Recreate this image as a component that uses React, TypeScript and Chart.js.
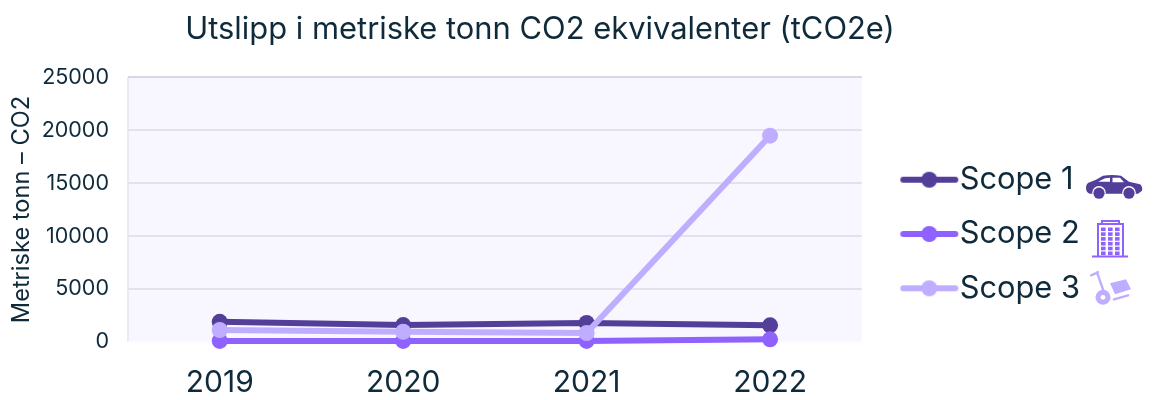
import React, { useEffect, useRef } from "react";
import { Chart, registerables } from "chart.js";

Chart.register(...registerables);

const years = ["2019", "2020", "2021", "2022"];
const scope1 = [1900, 1600, 1800, 1570];
const scope2 = [100, 100, 100, 250];
const scope3 = [1130, 970, 850, 19470];
const seriesNames = ["Scope 1", "Scope 2", "Scope 3"];
const chartTitle = "Utslipp i metriske tonn CO2 ekvivalenter (tCO2e)";
const yTitle = "Metriske tonn – CO2";

const DARK = "#533f99";
const MID = "#8f62ff";
const LIGHT = "#bfaeff";
const TEXT = "#0f2a3b";
const FONT = "Inter";

function legendMark(color: string) {
  const c = document.createElement("canvas");
  c.width = 60;
  c.height = 20;
  const g = c.getContext("2d")!;
  g.strokeStyle = color;
  g.fillStyle = color;
  g.lineWidth = 6;
  g.lineCap = "round";
  g.beginPath();
  g.moveTo(4, 10);
  g.lineTo(56, 10);
  g.stroke();
  g.beginPath();
  g.arc(30, 10, 8, 0, Math.PI * 2);
  g.fill();
  return c;
}

function drawCar(g: CanvasRenderingContext2D, x: number, y: number) {
  g.save();
  g.translate(x, y);
  g.fillStyle = DARK;
  g.beginPath();
  g.moveTo(0, 13);
  g.quadraticCurveTo(0, 8, 5, 7);
  g.lineTo(10, 5);
  g.lineTo(17, 1);
  g.quadraticCurveTo(26, -0.5, 35, 1);
  g.lineTo(43, 7);
  g.lineTo(54, 9.5);
  g.quadraticCurveTo(57, 12, 56, 16);
  g.lineTo(52, 19);
  g.lineTo(4, 19);
  g.quadraticCurveTo(0, 18, 0, 13);
  g.fill();
  g.fillStyle = "#ffffff";
  g.beginPath();
  g.moveTo(12, 7);
  g.lineTo(19, 3.5);
  g.lineTo(24, 3);
  g.lineTo(24, 7);
  g.closePath();
  g.moveTo(26.5, 3);
  g.lineTo(34, 3);
  g.lineTo(38, 7.5);
  g.lineTo(26.5, 7.5);
  g.closePath();
  g.fill();
  for (const cx of [13, 43]) {
    g.fillStyle = "#ffffff";
    g.beginPath();
    g.arc(cx, 18, 6.8, 0, Math.PI * 2);
    g.fill();
    g.fillStyle = DARK;
    g.beginPath();
    g.arc(cx, 18.5, 5.6, 0, Math.PI * 2);
    g.fill();
  }
  g.restore();
}

function drawBuilding(g: CanvasRenderingContext2D, x: number, y: number) {
  g.save();
  g.translate(x, y);
  g.fillStyle = MID;
  g.fillRect(0, 35.5, 36, 2);
  g.fillRect(9, 0, 19, 2);
  g.fillRect(9, 0, 2, 4);
  g.fillRect(26, 0, 2, 4);
  g.fillRect(5, 3, 27, 2);
  g.fillRect(5, 3, 2, 33);
  g.fillRect(30, 3, 2, 33);
  for (let r = 0; r < 6; r++) {
    for (let c = 0; c < 3; c++) {
      g.fillRect(9 + c * 7, 7.5 + r * 4.8, 4.6, 3.6);
    }
  }
  g.restore();
}

function drawTrolley(g: CanvasRenderingContext2D, x: number, y: number) {
  g.save();
  g.translate(x, y);
  g.strokeStyle = LIGHT;
  g.fillStyle = LIGHT;
  g.lineWidth = 2.4;
  g.lineCap = "round";
  g.beginPath();
  g.moveTo(1, 5);
  g.lineTo(8, 2);
  g.moveTo(7, 2);
  g.lineTo(14, 22);
  g.stroke();
  g.beginPath();
  g.moveTo(20, 13);
  g.lineTo(36, 9);
  g.lineTo(41, 19);
  g.lineTo(25, 24);
  g.closePath();
  g.fill();
  g.beginPath();
  g.moveTo(24, 29);
  g.lineTo(38, 25);
  g.stroke();
  g.beginPath();
  g.arc(13, 27, 7.5, 0, Math.PI * 2);
  g.fill();
  g.fillStyle = "#ffffff";
  g.beginPath();
  g.arc(13, 27, 2.4, 0, Math.PI * 2);
  g.fill();
  g.restore();
}

const layoutPlugin = {
  id: "layoutTweaks",
  afterLayout(chart: any) {
    chart.titleBlock.left = 0;
    chart.titleBlock.right = 1080;
    const w = chart.legend.width;
    chart.legend.left = chart.chartArea.right + 29;
    chart.legend.right = chart.legend.left + w;
    chart.legend.top += 34;
    chart.legend.bottom += 34;
  },
  beforeDraw(chart: any) {
    const { ctx, chartArea: a } = chart;
    ctx.save();
    ctx.fillStyle = "#f8f6fe";
    ctx.fillRect(a.left, a.top, a.right - a.left, a.bottom - a.top);
    ctx.restore();
  },
  afterDraw(chart: any) {
    const boxes = chart.legend.legendHitBoxes;
    const { ctx } = chart;
    const draws = [drawCar, drawBuilding, drawTrolley];
    const offsets = [
      [1086, -2],
      [1092, -11],
      [1090, -15],
    ];
    boxes.forEach((b: any, i: number) => {
      draws[i](ctx, offsets[i][0], b.top + b.height / 2 + offsets[i][1] - 3);
    });
  },
};

export default function App() {
  const ref = useRef<HTMLCanvasElement>(null);
  useEffect(() => {
    const colors = [DARK, MID, LIGHT];
    const marks = colors.map(legendMark);
    const mk = (i: number, data: number[], order: number) => ({
      label: seriesNames[i],
      data,
      order,
      clip: false,
      borderColor: colors[i],
      backgroundColor: colors[i],
      borderWidth: 6,
      pointRadius: 8,
      pointHoverRadius: 8,
      pointBorderWidth: 0,
      tension: 0,
    });
    const chart = new Chart(ref.current!, {
      type: "line",
      data: {
        labels: years,
        datasets: [mk(0, scope1, 2), mk(1, scope2, 1), mk(2, scope3, 0)],
      },
      plugins: [layoutPlugin],
      options: {
        responsive: false,
        animation: false,
        layout: { padding: { left: 0, right: 94, top: 0, bottom: 0 } },
        plugins: {
          tooltip: { enabled: false },
          title: {
            display: true,
            text: chartTitle,
            color: TEXT,
            font: { family: FONT, size: 30.9, weight: "normal" },
            padding: { top: 11, bottom: 29 },
          },
          legend: {
            display: true,
            position: "right",
            labels: {
              color: TEXT,
              font: { family: FONT, size: 30.8 },
              usePointStyle: true,
              pointStyleWidth: 30,
              padding: 23.5,
              generateLabels: () =>
                seriesNames.map((n, i) => ({
                  text: n,
                  fontColor: TEXT,
                  pointStyle: marks[i],
                  datasetIndex: i,
                  hidden: false,
                  lineWidth: 0,
                })),
            },
          },
        },
        scales: {
          x: {
            afterFit: (s: any) => {
              s.height = 58;
            },
            offset: true,
            grid: {
              offset: true,
              drawTicks: false,
              lineWidth: 2,
              color: (c: any) =>
                c.index === 0 || c.index === years.length
                  ? "#ebe9f3"
                  : "rgba(0,0,0,0)",
            },
            border: { display: false },
            ticks: {
              color: TEXT,
              font: { family: FONT, size: 30 },
              padding: 23,
            },
          },
          y: {
            min: 0,
            max: 25000,
            afterFit: (s: any) => {
              s.width = 128;
            },
            grid: {
              drawTicks: false,
              lineWidth: 2,
              color: (c: any) =>
                c.tick.value === 0
                  ? "#fbfaff"
                  : c.tick.value === 25000
                    ? "#d5d8e4"
                    : "#e4e0ee",
            },
            border: { display: false },
            ticks: {
              stepSize: 5000,
              color: TEXT,
              font: { family: FONT, size: 21.5 },
              padding: 19,
              callback: (v: any) => String(v),
            },
            title: {
              display: true,
              text: yTitle,
              color: TEXT,
              font: { family: FONT, size: 23.6 },
              padding: { top: 8, bottom: 0 },
            },
          },
        },
      },
    } as any);
    return () => chart.destroy();
  }, []);
  return (
    <div style={{ position: "absolute", left: 0, top: 0, width: 1155, height: 400 }}>
      <canvas ref={ref} width={1155} height={400} style={{ display: "block" }} />
    </div>
  );
}
